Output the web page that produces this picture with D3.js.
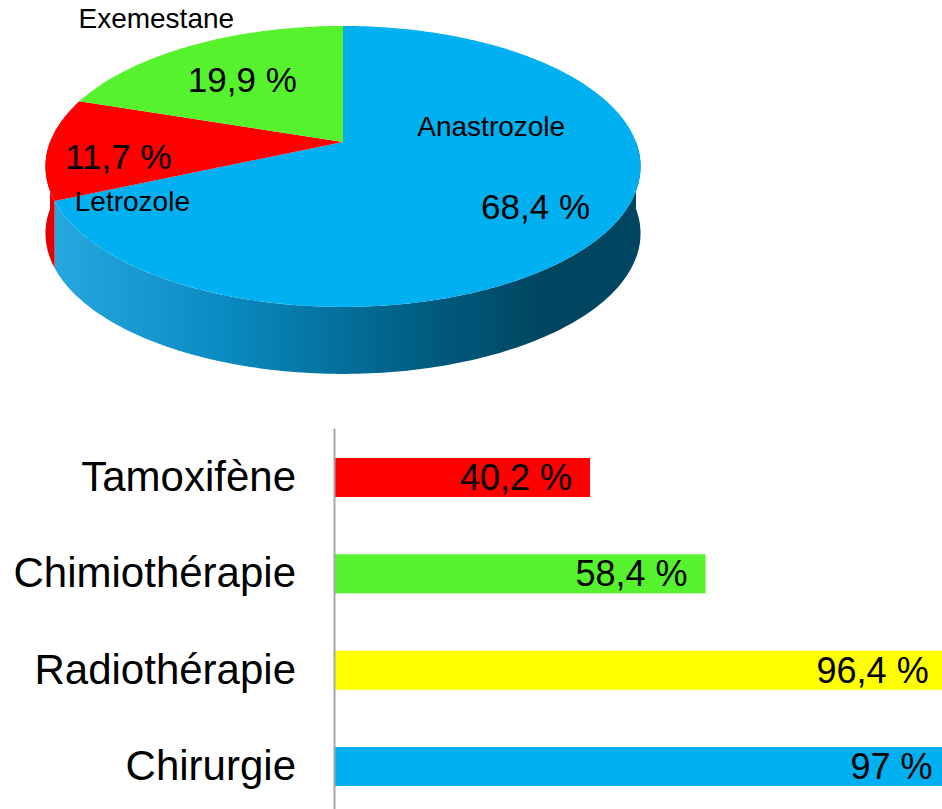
<!DOCTYPE html>
<html>
  <head>
      <meta charset="utf-8">
      <script src="https://cdn.jsdelivr.net/npm/d3@7"></script>
      <style>
        body { margin: 0; background: #fff; }
        svg { display: block; font-family: "Liberation Sans", Arial, sans-serif; }
      </style>
  </head>
  <body>
      <svg width="942" height="809"></svg>
      <script>
          // pie data (Anastrozole starts at 12 o'clock, clockwise)
          var pieNames = ['Anastrozole', 'Letrozole', 'Exemestane']
          var pieValues = [68.4, 11.7, 19.9]
          var pieLabels = ['68,4 %', '11,7 %', '19,9 %']
          var pieColors = ['#00b0f0', '#ff0000', '#56f22e']

          // bar data
          var barNames = ['Tamoxifène', 'Chimiothérapie', 'Radiothérapie', 'Chirurgie']
          var barValues = [40.2, 58.4, 96.4, 97]
          var barLabels = ['40,2 %', '58,4 %', '96,4 %', '97 %']
          var barColors = ['#ff0000', '#56f22e', '#ffff00', '#00b0f0']

          var svg = d3.select('svg')

          // ---- 3D pie, simple perspective projection of a tilted disk
          var cx = 343, cy = 142, k = 293, a = 136.2, p = 0.174, depth = 67
          function proj(deg, r) {
              var t = deg * Math.PI / 180
              var x = r * Math.sin(t), z = r * Math.cos(t)
              var w = 1 + p * z
              return [cx + k * x / w, cy - a * z / w]
          }

          var arcs = d3.pie().sort(null).value(function (d) { return d })(pieValues)
          arcs.forEach(function (d) {
              d.a0 = d.startAngle * 180 / Math.PI
              d.a1 = d.endAngle * 180 / Math.PI
          })

          var defs = svg.append('defs')
          var sideGrad = [
              [['0', '#27a8e0'], ['0.3', '#0a8ac0'], ['0.62', '#005f85'], ['0.85', '#00455f'], ['1', '#004662']],
              [['0', '#e60000'], ['1', '#b00000']],
              [['0', '#40c020'], ['1', '#2a8010']]
          ]
          sideGrad.forEach(function (stops, i) {
              var g = defs.append('linearGradient')
                  .attr('id', 'side' + i)
                  .attr('gradientUnits', 'userSpaceOnUse')
                  .attr('x1', cx - k).attr('x2', cx + k).attr('y1', 0).attr('y2', 0)
              stops.forEach(function (s) {
                  g.append('stop').attr('offset', s[0]).attr('stop-color', s[1])
              })
          })

          var line = d3.line()
          function angleSteps(a0, a1) {
              var pts = []
              var n = Math.max(2, Math.ceil(Math.abs(a1 - a0)))
              for (var j = 0; j <= n; j++) pts.push(a0 + (a1 - a0) * j / n)
              return pts
          }

          // side walls (front half only)
          var sides = svg.append('g')
          arcs.forEach(function (d, i) {
              var s0 = Math.max(d.a0, 90), s1 = Math.min(d.a1, 270)
              if (s1 <= s0) return
              var steps = angleSteps(s0, s1)
              var top = steps.map(function (t) { return proj(t, 1) })
              var bottom = steps.slice().reverse().map(function (t) {
                  var q = proj(t, 1); return [q[0], q[1] + depth]
              })
              sides.append('path')
                  .attr('d', line(top.concat(bottom)) + 'Z')
                  .attr('fill', 'url(#side' + i + ')')
          })

          // top faces
          svg.append('g').selectAll('path')
              .data(arcs)
              .enter()
              .append('path')
              .attr('d', function (d) {
                  var pts = [proj(0, 0)].concat(angleSteps(d.a0, d.a1).map(function (t) { return proj(t, 1) }))
                  return line(pts) + 'Z'
              })
              .attr('fill', function (d, i) { return pieColors[i] })

          // label layout: [angle, radius] for value label and name label
          var valuePos = [[126, 0.75], [262, 0.76], [323, 0.62]]
          var namePos = [[77, 0.53], [239, 0.78], [325, 1.32]]

          var pieText = svg.append('g').attr('fill', '#000').attr('text-anchor', 'middle')
          pieText.selectAll('text.val')
              .data(arcs)
              .enter()
              .append('text')
              .attr('class', 'val')
              .attr('x', function (d, i) { return proj(valuePos[i][0], valuePos[i][1])[0] })
              .attr('y', function (d, i) { return proj(valuePos[i][0], valuePos[i][1])[1] })
              .attr('dy', '0.35em')
              .attr('font-size', 35)
              .text(function (d, i) { return pieLabels[i] })
          pieText.selectAll('text.name')
              .data(arcs)
              .enter()
              .append('text')
              .attr('class', 'name')
              .attr('x', function (d, i) { return proj(namePos[i][0], namePos[i][1])[0] })
              .attr('y', function (d, i) { return proj(namePos[i][0], namePos[i][1])[1] })
              .attr('dy', '0.35em')
              .attr('font-size', 28)
              .text(function (d, i) { return pieNames[i] })

          // ---- horizontal bars
          var x = d3.scaleLinear().domain([0, 100]).range([335, 969.5])
          var y = d3.scaleBand().domain(barNames).range([428, 816])
              .paddingInner(0.595).paddingOuter(0.311)

          svg.append('g').selectAll('rect')
              .data(barValues)
              .enter()
              .append('rect')
              .attr('x', x(0))
              .attr('y', function (d, i) { return y(barNames[i]) })
              .attr('width', function (d) { return x(d) - x(0) })
              .attr('height', y.bandwidth())
              .attr('fill', function (d, i) { return barColors[i] })

          svg.append('g').selectAll('text')
              .data(barValues)
              .enter()
              .append('text')
              .attr('x', function (d) { return x(d) - 18 })
              .attr('y', function (d, i) { return y(barNames[i]) + y.bandwidth() / 2 })
              .attr('dy', '0.35em')
              .attr('text-anchor', 'end')
              .attr('font-size', 36)
              .text(function (d, i) { return barLabels[i] })

          var axis = svg.append('g')
              .attr('transform', 'translate(334,0)')
              .call(d3.axisLeft(y).tickSize(0).tickPadding(38))
          axis.select('.domain').attr('stroke', '#a6a6a6').attr('stroke-width', 2)
          axis.selectAll('text')
              .attr('font-size', 42)
              .attr('font-family', '"Liberation Sans", Arial, sans-serif')
              .attr('fill', '#000')
      </script>
  </body>
</html>
